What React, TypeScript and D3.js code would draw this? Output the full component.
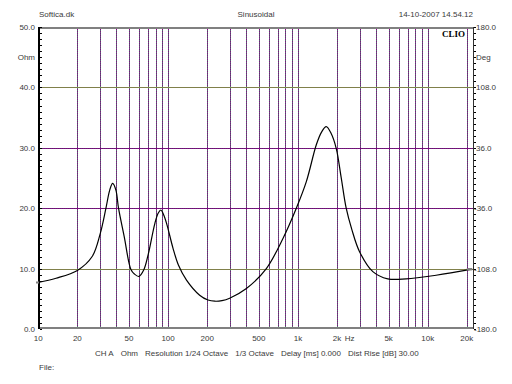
import * as d3 from "d3";

// impedance curve (Hz, Ohm)
const FREQ = [
  10, 13.7, 20, 26, 30, 33.2, 35.5, 37.4, 39.6, 41.5, 45.9, 51.6, 55, 59.6, 65, 70.2,
  79.1, 84, 88, 92, 97.3, 109, 120, 138.6, 175, 203, 229, 260, 298, 401, 571, 767,
  972, 1161, 1386, 1520, 1653, 1800, 1973, 2150, 2355, 2600, 2984, 3777, 4925, 6820,
  11600, 22000,
];
const OHM = [
  7.7, 8.4, 9.7, 12.0, 15.8, 20.0, 23.0, 24.1, 23.0, 20.0, 15.3, 9.9, 9.1, 8.7, 9.8, 12.3,
  17.5, 19.2, 19.7, 19.0, 17.5, 13.4, 10.6, 8.1, 5.6, 4.8, 4.6, 4.7, 5.1, 6.7, 10.0, 15.0,
  20.0, 24.4, 30.5, 32.6, 33.5, 32.4, 29.9, 25.2, 20.0, 16.5, 12.8, 9.5, 8.3, 8.3,
  8.9, 9.9,
];

const GRID_FREQ = [
  20, 30, 40, 50, 60, 70, 80, 90, 100, 200, 300, 400, 500, 600, 700, 800, 900, 1000,
  2000, 3000, 4000, 5000, 6000, 7000, 8000, 9000, 10000, 20000,
];
const X_TICKS = [10, 20, 50, 100, 200, 500, 1000, 2000, 5000, 10000, 20000];
const X_TICK_LABELS = ["10", "20", "50", "100", "200", "500", "1k", "2k", "5k", "10k", "20k"];
const OHM_TICKS = [0, 10, 20, 30, 40, 50];
const DEG_TICKS = [-180, -108, -36, 36, 108, 180];
const SOLID_ROWS = [10, 40];
const DOTTED_ROWS = [20, 30];
const INFO = ["CH A", "Ohm", "Resolution 1/24 Octave", "1/3 Octave", "Delay [ms] 0.000", "Dist Rise [dB] 30.00"];

const W = 512;
const H = 384;
const LEFT = 39;
const RIGHT = 473;
const TOP = 27;
const BOTTOM = 329;
const FONT = "'Liberation Sans', Arial, sans-serif";
const TXT = "#3a3a3a";

const App = () => {
  const xScale = d3.scaleLog().domain([10, 20000]).range([38.3, 466.8]);
  const yScale = d3.scaleLinear().domain([0, 50]).range([BOTTOM, TOP]);
  const degScale = d3.scaleLinear().domain([-180, 180]).range([BOTTOM, TOP]);

  const data = FREQ.map((f, i) => ({ f, v: OHM[i] }));
  const linePath = d3
    .line<{ f: number; v: number }>()
    .x((d) => xScale(d.f))
    .y((d) => yScale(d.v))
    .curve(d3.curveCatmullRom.alpha(0.5))(data);

  const px = (v: number) => Math.round(v) + 0.5;
  const minorOhm = d3.range(0, 51, 1);
  const minorDeg = d3.range(-180, 180.1, 7.2);
  const first = data[0];
  const last = data[data.length - 1];

  return (
    <div style={{ position: "absolute", left: 0, top: 0, background: "#fff" }}>
      <svg width={W} height={H} viewBox={`0 0 ${W} ${H}`} style={{ display: "block" }}>
        <rect width={W} height={H} fill="#fff" />

        {/* header */}
        <g fontFamily={FONT} fontSize={8} fill={TXT}>
          <text x={LEFT} y={17}>Softica.dk</text>
          <text x={256} y={17} textAnchor="middle">Sinusoidal</text>
          <text x={RIGHT} y={17} textAnchor="end">14-10-2007 14.54.12</text>
        </g>

        {/* vertical grid: two dotted layers, like the two overlaid axes grids */}
        <g shapeRendering="crispEdges">
          {GRID_FREQ.map((f) => (
            <g key={f}>
              <line x1={px(xScale(f))} x2={px(xScale(f))} y1={TOP} y2={BOTTOM} stroke="#880088" strokeDasharray="1 1" />
              <line x1={px(xScale(f))} x2={px(xScale(f))} y1={TOP} y2={BOTTOM} stroke="#4a7a68" strokeDasharray="1 1" strokeDashoffset={1} />
            </g>
          ))}
          {SOLID_ROWS.map((v) => (
            <line key={v} x1={LEFT} x2={RIGHT} y1={px(yScale(v))} y2={px(yScale(v))} stroke="#80804a" />
          ))}
          {DOTTED_ROWS.map((v) => (
            <g key={v}>
              <line x1={LEFT} x2={RIGHT} y1={px(yScale(v))} y2={px(yScale(v))} stroke="#880088" strokeDasharray="1 1" />
              <line x1={LEFT} x2={RIGHT} y1={px(yScale(v))} y2={px(yScale(v))} stroke="#5a2a6a" strokeDasharray="1 1" strokeDashoffset={1} />
            </g>
          ))}
        </g>

        {/* frame */}
        <g shapeRendering="crispEdges">
          <rect x={LEFT} y={TOP} width={RIGHT - LEFT + 1} height={2} fill="#808080" />
          <rect x={LEFT} y={BOTTOM - 2} width={RIGHT - LEFT + 1} height={2} fill="#808080" />
          <rect x={LEFT - 1} y={TOP} width={2} height={BOTTOM - TOP} fill="#000" />
          <line x1={RIGHT + 0.5} x2={RIGHT + 0.5} y1={TOP} y2={BOTTOM} stroke="#303030" />
          {minorOhm.map((v) => (
            <line key={v} x1={LEFT + 1} x2={LEFT + 3} y1={px(yScale(v))} y2={px(yScale(v))} stroke="#000" />
          ))}
          {minorDeg.map((v, i) => (
            <line key={i} x1={RIGHT + 1} x2={RIGHT + 3} y1={px(degScale(v))} y2={px(degScale(v))} stroke="#000" />
          ))}
        </g>

        <text x={465} y={36.5} textAnchor="end" fontFamily="'Liberation Serif', 'Times New Roman', serif" fontWeight="bold" fontSize={9} fill="#000">
          CLIO
        </text>

        {/* curve */}
        <path d={linePath || ""} fill="none" stroke="#000" strokeWidth={1.2} />
        <rect x={LEFT - 3} y={yScale(first.v) - 1} width={3} height={2} fill="#808080" />
        <rect x={xScale(20000)} y={yScale(last.v) - 1.2} width={xScale(last.f) - xScale(20000)} height={2.4} fill="#808080" />

        {/* axis labels */}
        <g fontFamily={FONT} fontSize={8} fill={TXT}>
          {OHM_TICKS.map((v) => (
            <text key={v} x={35} y={yScale(v) + 3} textAnchor="end">{v.toFixed(1)}</text>
          ))}
          <text x={35} y={yScale(45) + 3} textAnchor="end">Ohm</text>
          {DEG_TICKS.map((v) => (
            <text key={v} x={v < 0 ? 474 : 476} y={degScale(v) + 3}>{v.toFixed(1)}</text>
          ))}
          <text x={476} y={degScale(144) + 3}>Deg</text>
          {X_TICKS.map((f, i) => (
            <text key={f} x={xScale(f)} y={341} textAnchor="middle">{X_TICK_LABELS[i]}</text>
          ))}
          <text x={xScale(2500)} y={341} textAnchor="middle">Hz</text>
          <text x={95} y={356}>
            {INFO.map((s, i) => (
              <tspan key={s} dx={i === 0 ? 0 : 7}>{s}</tspan>
            ))}
          </text>
          <text x={LEFT} y={369.5}>File:</text>
        </g>
      </svg>
    </div>
  );
};

export default App;
